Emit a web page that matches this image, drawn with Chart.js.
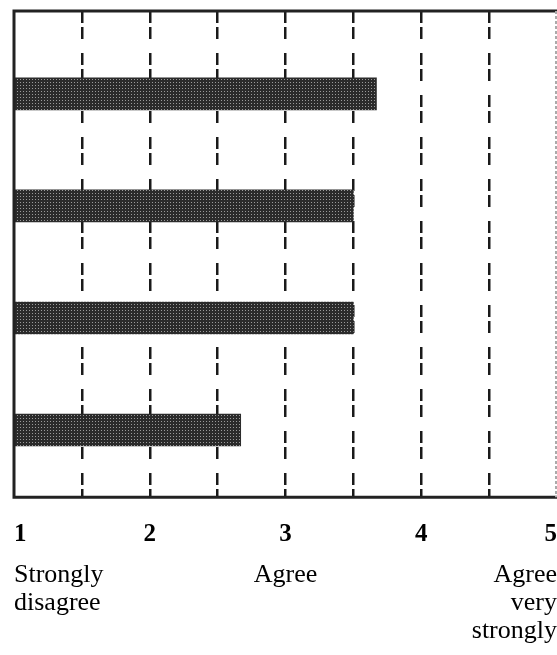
<!DOCTYPE html>
<html>
<head>
<meta charset="utf-8">
<script src="https://cdn.jsdelivr.net/npm/chart.js@4"></script>
<style>
  html,body{margin:0;padding:0;background:#fff;}
  #wrap{width:557px;height:655px;}
</style>
</head>
<body>
<div id="wrap"><canvas id="chart"></canvas></div>
<script>
// scores on the 1-5 agreement scale, top bar first
const items = ["Item 1", "Item 2", "Item 3", "Item 4"];
const rowPos = [1, 2, 3, 4];
const scores = [3.67, 3.5, 3.5, 2.67];

// scale labels
const tickNumbers = ["1", "2", "3", "4", "5"];
const tickWords = [["Strongly", "disagree"], "", "Agree", "", ["Agree", "very", "strongly"]];

// dotted print-like fill for the bars
function barPattern(){
  const c = document.createElement("canvas");
  c.width = 3; c.height = 3;
  const g = c.getContext("2d");
  g.fillStyle = "#2b2b2b"; g.fillRect(0,0,3,3);
  g.fillStyle = "#9a9a9a"; g.fillRect(2,1,1,1);
  return g.createPattern(c, "repeat");
}

// frame round the plot area (right side is faint in the print)
const framePlugin = {
  id: "frame",
  afterDatasetsDraw(chart){
    const a = chart.chartArea, ctx = chart.ctx;
    ctx.save();
    ctx.strokeStyle = "#222";
    ctx.lineWidth = 3;
    ctx.beginPath();
    ctx.moveTo(a.right, a.top); ctx.lineTo(a.left, a.top);
    ctx.lineTo(a.left, a.bottom); ctx.lineTo(a.right, a.bottom);
    ctx.stroke();
    ctx.strokeStyle = "#aaa";
    ctx.lineWidth = 2;
    ctx.setLineDash([3, 2]);
    ctx.beginPath();
    ctx.moveTo(a.right - 1, a.top); ctx.lineTo(a.right - 1, a.bottom);
    ctx.stroke();
    ctx.restore();
  }
};

const serif = "'Liberation Serif', 'DejaVu Serif', serif";

new Chart(document.getElementById("chart"), {
  type: "bar",
  data: {
    datasets: [{
      label: "score",
      data: items.map((n,i) => ({x: scores[i], y: rowPos[i]})),
      backgroundColor: barPattern(),
      borderWidth: 0,
      barThickness: 32
    }]
  },
  options: {
    indexAxis: "y",
    responsive: true,
    maintainAspectRatio: false,
    animation: false,
    layout: {padding: {left: 14, right: 0, top: 11, bottom: 10}},
    plugins: {legend: {display: false}, tooltip: {enabled: false}},
    scales: {
      y: {
        type: "linear",
        display: false,
        offset: false,
        reverse: true,
        min: 0.26,
        max: 4.6
      },
      x: {
        type: "linear",
        position: "bottom",
        min: 1,
        max: 5,
        grid: {
          color: ctx => (ctx.tick && (ctx.tick.value === 1 || ctx.tick.value === 5)) ? "rgba(0,0,0,0)" : "#1a1a1a",
          lineWidth: 2.5,
          drawTicks: true,
          tickLength: 24,
          tickColor: "rgba(0,0,0,0)"
        },
        border: {display: false, dash: [12, 4, 12, 14]},
        ticks: {
          stepSize: 0.5,
          autoSkip: false,
          maxRotation: 0,
          align: "inner",
          padding: 0,
          color: "#000",
          font: {family: serif, size: 25, weight: "bold", lineHeight: 1.1},
          callback: v => Number.isInteger(v) ? tickNumbers[v - 1] : ""
        }
      },
      x2: {
        type: "linear",
        position: "bottom",
        min: 1,
        max: 5,
        grid: {display: false, drawTicks: true, tickLength: 12},
        border: {display: false},
        ticks: {
          stepSize: 1,
          autoSkip: false,
          maxRotation: 0,
          align: "inner",
          padding: 0,
          color: "#000",
          font: {family: serif, size: 26, lineHeight: 1.08},
          callback: v => tickWords[v - 1]
        }
      }
    }
  },
  plugins: [framePlugin]
});
</script>
</body>
</html>
